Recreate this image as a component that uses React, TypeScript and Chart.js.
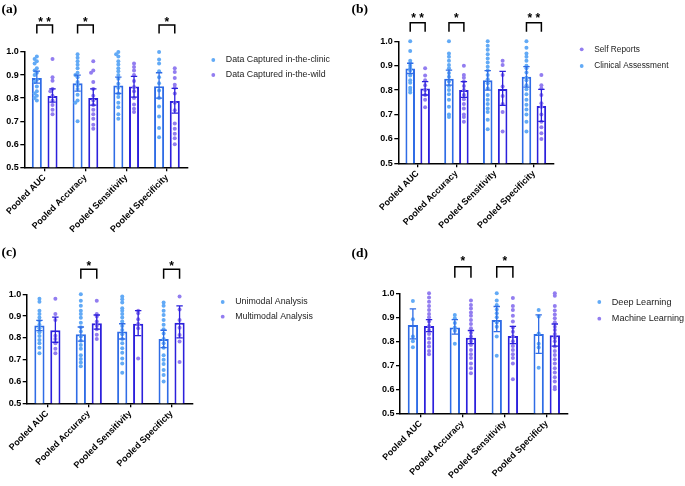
import React, { useEffect, useRef } from "react";
import { Chart, registerables } from "chart.js";
Chart.register(...registerables);

// ---------- shared labels ----------
const categoriesAB = ["Pooled AUC", "Pooled Accuracy", "Pooled Sensitivity", "Pooled Specificity"];
const categoriesCD = ["Pooled AUC", "Pooled Accuracy", "Pooled Sensitivity", "Pooled Specificty"];
const yTickValues = [0.5, 0.6, 0.7, 0.8, 0.9, 1.0];

// ---------- panel (a) ----------
const aClinicName = "Data Captured in-the-clinic";
const aClinicMean = [0.887, 0.864, 0.855, 0.852];
const aClinicLow = [0.865, 0.83, 0.82, 0.8];
const aClinicHigh = [0.917, 0.9, 0.891, 0.91];
const aClinicDots = [
  [0.98, 0.97, 0.96, 0.95, 0.93, 0.92, 0.91, 0.9, 0.88, 0.87, 0.85, 0.83, 0.82, 0.81, 0.8, 0.79],
  [0.99, 0.975, 0.96, 0.945, 0.93, 0.91, 0.9, 0.89, 0.87, 0.855, 0.84, 0.815, 0.79, 0.78, 0.7],
  [1.0, 0.99, 0.98, 0.96, 0.946, 0.93, 0.916, 0.9, 0.884, 0.862, 0.845, 0.82, 0.805, 0.78, 0.76, 0.73, 0.71],
  [1.0, 0.967, 0.95, 0.917, 0.89, 0.865, 0.833, 0.8, 0.764, 0.72, 0.67, 0.63],
];
const aWildName = "Data Captured in-the-wild";
const aWildMean = [0.809, 0.8, 0.85, 0.787];
const aWildLow = [0.783, 0.77, 0.804, 0.735];
const aWildHigh = [0.84, 0.84, 0.894, 0.842];
const aWildDots = [
  [0.97, 0.89, 0.875, 0.84, 0.83, 0.81, 0.79, 0.77, 0.75, 0.73],
  [0.96, 0.92, 0.91, 0.87, 0.84, 0.81, 0.79, 0.77, 0.75, 0.73, 0.71, 0.685, 0.667],
  [0.95, 0.935, 0.92, 0.9, 0.874, 0.848, 0.83, 0.8, 0.772, 0.754, 0.74],
  [0.93, 0.913, 0.887, 0.858, 0.845, 0.82, 0.78, 0.747, 0.69, 0.667, 0.645, 0.626, 0.6],
];
const aStars = ["**", "*", "", "*"];

// ---------- panel (b) ----------
const bClinicalName = "Clinical Assessment";
const bClinicalMean = [0.889, 0.847, 0.84, 0.855];
const bClinicalLow = [0.868, 0.82, 0.8, 0.812];
const bClinicalHigh = [0.91, 0.882, 0.88, 0.896];
const bClinicalDots = [
  [1.0, 0.96, 0.92, 0.91, 0.9, 0.89, 0.88, 0.86, 0.84, 0.83, 0.81, 0.8, 0.79],
  [1.0, 0.95, 0.937, 0.92, 0.903, 0.89, 0.87, 0.855, 0.835, 0.817, 0.8, 0.783, 0.76, 0.732, 0.7, 0.69],
  [1.0, 0.982, 0.965, 0.947, 0.93, 0.913, 0.896, 0.88, 0.862, 0.844, 0.828, 0.807, 0.78, 0.76, 0.743, 0.725, 0.71, 0.678, 0.64],
  [1.0, 0.974, 0.95, 0.937, 0.92, 0.9, 0.89, 0.872, 0.851, 0.84, 0.82, 0.803, 0.783, 0.76, 0.74, 0.72, 0.7, 0.67, 0.63],
];
const bSelfName = "Self Reports";
const bSelfMean = [0.807, 0.8, 0.805, 0.735];
const bSelfLow = [0.78, 0.77, 0.737, 0.672];
const bSelfHigh = [0.835, 0.835, 0.877, 0.803];
const bSelfDots = [
  [0.89, 0.86, 0.84, 0.82, 0.8, 0.78, 0.76, 0.73],
  [0.9, 0.862, 0.851, 0.835, 0.817, 0.8, 0.78, 0.763, 0.743, 0.725, 0.7, 0.69, 0.67],
  [0.92, 0.903, 0.862, 0.815, 0.776, 0.743, 0.71, 0.63],
  [0.862, 0.82, 0.807, 0.78, 0.746, 0.732, 0.7, 0.67, 0.648, 0.623, 0.6],
];
const bStars = ["**", "*", "", "**"];

// ---------- panel (c) ----------
const cUniName = "Unimodal Analysis";
const cUniMean = [0.857, 0.817, 0.829, 0.795];
const cUniLow = [0.833, 0.785, 0.795, 0.755];
const cUniHigh = [0.88, 0.85, 0.865, 0.835];
const cUniDots = [
  [0.98, 0.966, 0.924, 0.91, 0.894, 0.878, 0.86, 0.844, 0.826, 0.809, 0.79, 0.775, 0.755, 0.73],
  [1.0, 0.97, 0.948, 0.925, 0.91, 0.893, 0.87, 0.849, 0.829, 0.806, 0.787, 0.768, 0.75, 0.72, 0.703, 0.687, 0.67],
  [0.99, 0.977, 0.962, 0.936, 0.924, 0.91, 0.894, 0.875, 0.855, 0.836, 0.817, 0.795, 0.775, 0.752, 0.732, 0.706, 0.683, 0.64],
  [0.962, 0.948, 0.924, 0.905, 0.882, 0.86, 0.84, 0.82, 0.795, 0.775, 0.755, 0.72, 0.7, 0.68, 0.653, 0.63, 0.6],
];
const cMultiName = "Multimodal Analysis";
const cMultiMean = [0.835, 0.867, 0.865, 0.87];
const cMultiLow = [0.78, 0.84, 0.81, 0.8];
const cMultiHigh = [0.895, 0.905, 0.925, 0.947];
const cMultiDots = [
  [0.98, 0.91, 0.882, 0.81, 0.795, 0.775, 0.75, 0.73],
  [0.97, 0.91, 0.898, 0.875, 0.856, 0.84, 0.814, 0.795],
  [0.925, 0.913, 0.885, 0.864, 0.844, 0.706],
  [0.99, 0.93, 0.882, 0.847, 0.813, 0.783, 0.69],
];
const cStars = ["", "*", "", "*"];

// ---------- panel (d) ----------
const dDeepName = "Deep Learning";
const dDeepMean = [0.868, 0.858, 0.889, 0.83];
const dDeepLow = [0.81, 0.83, 0.84, 0.75];
const dDeepHigh = [0.935, 0.89, 0.945, 0.91];
const dDeepDots = [
  [0.968, 0.892, 0.82, 0.8, 0.775],
  [0.91, 0.896, 0.876, 0.858, 0.844, 0.79],
  [1.0, 0.97, 0.951, 0.933, 0.917, 0.9, 0.878, 0.861, 0.82, 0.74],
  [0.93, 0.903, 0.833, 0.79, 0.774, 0.69],
];
const dMlName = "Machine Learning";
const dMlMean = [0.864, 0.815, 0.822, 0.825];
const dMlLow = [0.84, 0.79, 0.79, 0.78];
const dMlHigh = [0.89, 0.845, 0.862, 0.872];
const dMlDots = [
  [1.0, 0.983, 0.965, 0.947, 0.93, 0.914, 0.9, 0.882, 0.864, 0.847, 0.83, 0.812, 0.794, 0.778, 0.76, 0.746],
  [0.97, 0.951, 0.937, 0.92, 0.906, 0.889, 0.872, 0.854, 0.836, 0.82, 0.8, 0.785, 0.764, 0.746, 0.73, 0.708, 0.688, 0.667],
  [0.98, 0.947, 0.93, 0.906, 0.882, 0.858, 0.84, 0.82, 0.8, 0.78, 0.764, 0.746, 0.73, 0.708, 0.642],
  [1.0, 0.99, 0.947, 0.928, 0.912, 0.896, 0.879, 0.861, 0.847, 0.83, 0.815, 0.8, 0.778, 0.76, 0.743, 0.725, 0.708, 0.688, 0.67, 0.65, 0.632, 0.61, 0.6],
];
const dStars = ["", "*", "*", ""];

// ---------- styles ----------
const BLUE_BAR = "#2f6ce6";
const PURPLE_BAR = "#2c20dc";
const BLUE_DOT = "#62aaf6";
const PURPLE_DOT = "#927df0";
const SANS = '"Liberation Sans", Arial, sans-serif';

type Series = { name: string; mean: number[]; low: number[]; high: number[]; dots: number[][] };
type Geo = {
  x: number; y: number; w: number; h: number;
  left: number; top: number; right: number; bottom: number;
  legendX: number; legendY: number[]; legendFont: number;
  title: string; titleX: number; titleY: number;
  bracketTop: number; bracketLeg: number; starY: number;
};

function Panel(props: { labels: string[]; s1: Series; s2: Series; stars: string[]; legendOrder: number[]; geo: Geo }) {
  const ref = useRef<HTMLCanvasElement | null>(null);
  useEffect(() => {
    const { labels, s1, s2, stars, legendOrder, geo } = props;
    const series = [s1, s2];
    const barColors = [BLUE_BAR, PURPLE_BAR];
    const dotColors = [BLUE_DOT, PURPLE_DOT];

    const overlay = {
      id: "overlay",
      afterDatasetsDraw(chart: any) {
        const ctx = chart.ctx;
        const ys = chart.scales.y;
        ctx.save();
        series.forEach((s, di) => {
          const meta = chart.getDatasetMeta(di);
          s.dots.forEach((vals, ci) => {
            const cx = meta.data[ci].x;
            const placed: { x: number; y: number }[] = [];
            vals.forEach((v) => {
              const py = ys.getPixelForValue(v);
              let px = cx;
              for (const off of [0, -2.2, 2.2, -4.4, 4.4]) {
                const cand = cx + off;
                if (placed.every((p) => Math.hypot(p.x - cand, p.y - py) > 2.4)) { px = cand; break; }
              }
              placed.push({ x: px, y: py });
              ctx.beginPath();
              ctx.fillStyle = dotColors[di];
              ctx.arc(px, py, 2.0, 0, Math.PI * 2);
              ctx.fill();
            });
            // error bar
            const yl = ys.getPixelForValue(s.low[ci]);
            const yh = ys.getPixelForValue(s.high[ci]);
            ctx.strokeStyle = barColors[di];
            ctx.lineWidth = 1.3;
            ctx.beginPath();
            ctx.moveTo(cx, yl); ctx.lineTo(cx, yh);
            ctx.moveTo(cx - 3.2, yl); ctx.lineTo(cx + 3.2, yl);
            ctx.moveTo(cx - 3.2, yh); ctx.lineTo(cx + 3.2, yh);
            ctx.stroke();
          });
        });
        ctx.restore();
      },
      afterDraw(chart: any) {
        const ctx = chart.ctx;
        ctx.save();
        // title
        ctx.fillStyle = "#000";
        ctx.font = 'bold 13.5px "Liberation Serif", "Times New Roman", serif';
        ctx.textBaseline = "alphabetic";
        ctx.textAlign = "left";
        ctx.fillText(geo.title, geo.titleX, geo.titleY);
        // brackets
        const m0 = chart.getDatasetMeta(0);
        const m1 = chart.getDatasetMeta(1);
        stars.forEach((st, ci) => {
          if (!st) return;
          const x0 = m0.data[ci].x;
          const x1 = m1.data[ci].x;
          ctx.strokeStyle = "#000";
          ctx.lineWidth = 1.5;
          ctx.beginPath();
          ctx.moveTo(x0, geo.bracketTop + geo.bracketLeg);
          ctx.lineTo(x0, geo.bracketTop);
          ctx.lineTo(x1, geo.bracketTop);
          ctx.lineTo(x1, geo.bracketTop + geo.bracketLeg);
          ctx.stroke();
          ctx.fillStyle = "#000";
          ctx.font = `bold 12px ${SANS}`;
          ctx.textAlign = "center";
          ctx.textBaseline = "alphabetic";
          ctx.fillText(st.split("").join(" "), (x0 + x1) / 2, geo.starY + 0.58 * 12);
        });
        // legend
        legendOrder.forEach((si, k) => {
          const y = geo.legendY[k];
          ctx.beginPath();
          ctx.fillStyle = dotColors[si];
          ctx.arc(geo.legendX, y, 1.9, 0, Math.PI * 2);
          ctx.fill();
          ctx.fillStyle = "#222";
          ctx.font = `${geo.legendFont}px ${SANS}`;
          ctx.textAlign = "left";
          ctx.textBaseline = "middle";
          ctx.fillText(series[si].name, geo.legendX + 12.5, y);
        });
        ctx.restore();
      },
    };

    const tickFont = { family: SANS, size: 9, weight: "bold" as const };
    const chart = new Chart(ref.current as HTMLCanvasElement, {
      type: "bar",
      data: {
        labels,
        datasets: series.map((s, i) => ({
          label: s.name,
          data: s.mean,
          backgroundColor: "#ffffff",
          borderColor: barColors[i],
          borderWidth: 2,
          categoryPercentage: 0.77,
          barPercentage: 0.64,
        })),
      },
      options: {
        animation: false,
        responsive: false,
        devicePixelRatio: 1,
        events: [],
        layout: { padding: { top: geo.top, right: geo.w - geo.right, left: 0, bottom: 0 } },
        plugins: { legend: { display: false }, tooltip: { enabled: false }, title: { display: false } },
        scales: {
          x: {
            grid: { display: true, drawOnChartArea: false, drawTicks: true, tickLength: 4, color: "#000", lineWidth: 1.3, offset: false },
            border: { display: true, color: "#000", width: 1.5 },
            ticks: { color: "#000", font: tickFont, minRotation: 45, maxRotation: 45, autoSkip: false, padding: 1 },
            afterFit: (s: any) => { s.height = geo.h - geo.bottom; },
          },
          y: {
            min: 0.5,
            max: 1.0,
            afterBuildTicks: (s: any) => { s.ticks = yTickValues.map((v) => ({ value: v })); },
            ticks: { color: "#000", font: tickFont, padding: 1.5, callback: (v: any) => Number(v).toFixed(1) },
            grid: { display: true, drawOnChartArea: false, drawTicks: true, tickLength: 4, color: "#000", lineWidth: 1.3 },
            border: { display: true, color: "#000", width: 1.5 },
            afterFit: (s: any) => { s.width = geo.left; },
          },
        },
      } as any,
      plugins: [overlay],
    });
    return () => chart.destroy();
  }, []);
  const g = props.geo;
  return (
    <canvas
      ref={ref}
      width={g.w}
      height={g.h}
      style={{ position: "absolute", left: g.x, top: g.y, width: g.w, height: g.h }}
    />
  );
}

const geoA: Geo = {
  x: 0, y: 0, w: 340, h: 240, left: 24.3, top: 52, right: 187.3, bottom: 167.3,
  legendX: 213.3, legendY: [60, 75], legendFont: 8.8, title: "(a)", titleX: 1.5, titleY: 13,
  bracketTop: 25, bracketLeg: 8.5, starY: 19,
};
const geoB: Geo = {
  x: 340, y: 0, w: 345, h: 240, left: 58.3, top: 41.3, right: 213.3, bottom: 163.3,
  legendX: 241.7, legendY: [49.3, 66], legendFont: 8.3, title: "(b)", titleX: 11.5, titleY: 13,
  bracketTop: 22.7, bracketLeg: 9, starY: 15,
};
const geoC: Geo = {
  x: 0, y: 240, w: 340, h: 246, left: 26.7, top: 54.3, right: 192.3, bottom: 163.3,
  legendX: 222.7, legendY: [62, 76.7], legendFont: 8.8, title: "(c)", titleX: 1.5, titleY: 16,
  bracketTop: 29.3, bracketLeg: 9.5, starY: 22.7,
};
const geoD: Geo = {
  x: 340, y: 240, w: 345, h: 246, left: 60, top: 53.3, right: 227.7, bottom: 173.3,
  legendX: 259.3, legendY: [62, 78.7], legendFont: 9.1, title: "(d)", titleX: 11.5, titleY: 17,
  bracketTop: 26.7, bracketLeg: 11, starY: 18.3,
};

export default function App() {
  return (
    <div style={{ position: "absolute", left: 0, top: 0, width: 685, height: 486, background: "#fff" }}>
      <Panel
        labels={categoriesAB}
        s1={{ name: aClinicName, mean: aClinicMean, low: aClinicLow, high: aClinicHigh, dots: aClinicDots }}
        s2={{ name: aWildName, mean: aWildMean, low: aWildLow, high: aWildHigh, dots: aWildDots }}
        stars={aStars}
        legendOrder={[0, 1]}
        geo={geoA}
      />
      <Panel
        labels={categoriesAB}
        s1={{ name: bClinicalName, mean: bClinicalMean, low: bClinicalLow, high: bClinicalHigh, dots: bClinicalDots }}
        s2={{ name: bSelfName, mean: bSelfMean, low: bSelfLow, high: bSelfHigh, dots: bSelfDots }}
        stars={bStars}
        legendOrder={[1, 0]}
        geo={geoB}
      />
      <Panel
        labels={categoriesCD}
        s1={{ name: cUniName, mean: cUniMean, low: cUniLow, high: cUniHigh, dots: cUniDots }}
        s2={{ name: cMultiName, mean: cMultiMean, low: cMultiLow, high: cMultiHigh, dots: cMultiDots }}
        stars={cStars}
        legendOrder={[0, 1]}
        geo={geoC}
      />
      <Panel
        labels={categoriesCD}
        s1={{ name: dDeepName, mean: dDeepMean, low: dDeepLow, high: dDeepHigh, dots: dDeepDots }}
        s2={{ name: dMlName, mean: dMlMean, low: dMlLow, high: dMlHigh, dots: dMlDots }}
        stars={dStars}
        legendOrder={[0, 1]}
        geo={geoD}
      />
    </div>
  );
}
